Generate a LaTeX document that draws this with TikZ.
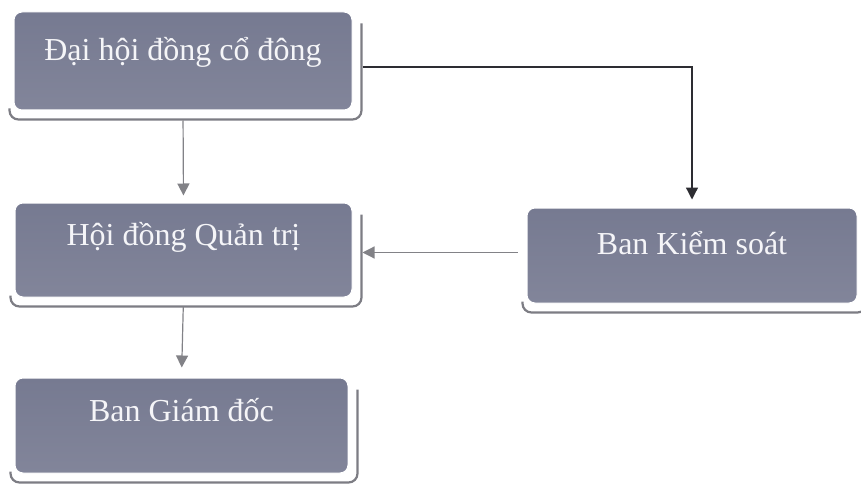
\documentclass[tikz,border=0pt]{standalone}
\usepackage{fontspec}
\setmainfont{Liberation Serif}
\usetikzlibrary{arrows.meta,backgrounds}
\definecolor{boxtop}{RGB}{118,122,145}
\definecolor{boxbot}{RGB}{130,133,154}
\definecolor{shadowgray}{RGB}{125,125,132}
\definecolor{linegray}{RGB}{130,130,135}
\definecolor{linedark}{RGB}{45,45,50}
\definecolor{txt}{RGB}{245,245,248}
\tikzset{
  orgbox/.style={rectangle, rounded corners=8pt, top color=boxtop, bottom color=boxbot,
    draw=white, line width=1pt, text=txt, font=\fontsize{32}{38}\selectfont,
    inner sep=0pt, text height=22pt},
  shadowline/.style={draw=shadowgray, line width=2.2pt, rounded corners=9pt},
  conn/.style={draw=linegray, line width=1.2pt, -{Triangle[width=12pt,length=12pt]}},
  conndark/.style={draw=linedark, line width=1.3pt, -{Triangle[width=12pt,length=12pt]}},
}
\begin{document}
\begin{tikzpicture}[x=1pt,y=-1pt]
\useasboundingbox (0,0) rectangle (861,484);
\node[orgbox, minimum width=338pt, minimum height=98pt, text depth=22pt] (b1) at (183,61) {Đại hội đồng cổ đông};
\node[orgbox, minimum width=337pt, minimum height=94pt, text depth=32pt] (b2) at (183.5,250) {Hội đồng Quản trị};
\node[orgbox, minimum width=330pt, minimum height=95pt, text depth=24pt] (b3) at (692,255.5) {Ban Kiểm soát};
\node[orgbox, minimum width=333pt, minimum height=95pt, text depth=30pt] (b4) at (181.5,425.5) {Ban Giám đốc};
\begin{scope}[on background layer]
\foreach \n in {b1,b2,b3,b4}{
  \draw[shadowline] ([xshift=-4pt,yshift=2pt]\n.south west) -- ([xshift=-4pt,yshift=-9pt]\n.south west)
     -- ([xshift=9pt,yshift=-9pt]\n.south east) -- ([xshift=9pt,yshift=-12pt]\n.north east);
}
\end{scope}
\draw[conn, shorten <=10pt, shorten >=7pt] (b1.south) -- (b2.north);
\draw[conn, shorten <=9pt, shorten >=10pt] (b2.south) -- (b4.north);
\draw[conndark, shorten >=8pt] ([xshift=10pt,yshift=-6pt]b1.east) -| (b3.north);
\draw[conn, shorten <=9pt, shorten >=10pt] ([yshift=3pt]b3.west) -- ([yshift=3pt]b3.west -| b2.east);
\end{tikzpicture}
\end{document}
